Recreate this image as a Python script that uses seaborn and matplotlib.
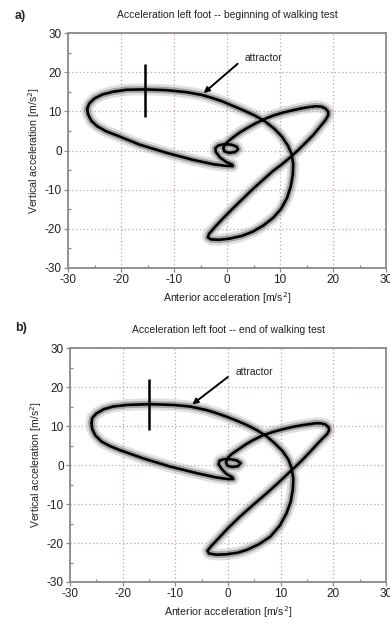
import matplotlib
matplotlib.use("Agg")
import matplotlib.pyplot as plt
import seaborn as sns
import pandas as pd
from matplotlib.ticker import MultipleLocator

# ---------------- data ----------------
# panel a: black attractor trajectory (beginning of walking test)
a_x = [-26.4, -26.2, -25.6, -24.5, -22.8, -20.5, -16.5, -11.4, -6.4, -2.6,
       -0.3, 1.1, 1.0, -0.2, -1.3, -2.1, -2.2, -1.6, -0.5, 0.8,
       1.8, 2.1, 1.5, 0.4, -0.5, -0.7, -0.2, 0.8, 2.4, 4.0,
       5.5, 7.2, 8.7, 10.6, 12.5, 14.2, 15.6, 16.8, 17.8, 18.6,
       19.1, 19.1, 18.6, 17.5, 16.3, 15.0, 13.5, 11.8, 10.3, 8.7,
       6.8, 4.9, 3.0, 1.1, -0.8, -2.4, -3.4, -3.6, -3.0, -1.5,
       0.5, 2.8, 4.9, 6.9, 8.7, 10.2, 11.3, 12.0, 12.4, 12.5,
       12.2, 11.5, 10.4, 8.9, 7.2, 5.3, 3.2, 1.1, -1.0, -3.0,
       -4.8, -7.7, -11.4, -15.5, -19.0, -21.5, -23.5, -25.0, -26.0, -26.4]
a_y = [10.6, 9.2, 7.6, 6.2, 4.9, 3.7, 1.5, -0.6, -2.4, -3.5,
       -3.9, -4.0, -3.6, -2.9, -1.8, -0.4, 0.6, 1.3, 1.6, 1.5,
       1.0, 0.3, -0.4, -0.6, -0.2, 0.7, 1.8, 3.0, 4.6, 5.9,
       7.0, 8.1, 8.9, 9.7, 10.3, 10.8, 11.1, 11.3, 11.2, 10.7,
       9.9, 9.0, 7.8, 6.0, 4.0, 2.2, 0.2, -1.9, -3.6, -5.2,
       -7.5, -9.8, -12.3, -14.8, -17.4, -19.7, -21.3, -22.2, -22.7, -22.8,
       -22.5, -21.8, -20.7, -19.1, -17.2, -14.9, -12.2, -9.3, -6.3, -3.5,
       -0.9, 1.2, 3.5, 5.6, 7.4, 8.9, 10.2, 11.4, 12.6, 13.5,
       14.2, 14.9, 15.4, 15.6, 15.5, 15.0, 14.3, 13.3, 12.0, 10.6]

# panel b: black attractor trajectory (end of walking test)
b_x = [-25.9, -25.8, -25.2, -24.0, -22.5, -20.5, -16.1, -11.0, -5.9, -2.2,
       0.0, 1.0, 0.8, -0.3, -1.2, -1.8, -1.6, -0.8, 0.4, 1.6,
       2.4, 1.9, 0.8, -0.1, -0.4, 0.0, 0.8, 2.2, 3.5, 4.8,
       6.6, 8.6, 10.5, 12.4, 14.0, 15.6, 16.6, 17.6, 18.5, 19.1,
       19.2, 18.8, 18.1, 16.9, 15.6, 13.9, 11.8, 9.6, 7.3, 4.8,
       2.3, 0.0, -1.8, -3.2, -3.9, -3.6, -2.2, -0.3, 1.8, 3.5,
       5.9, 8.0, 9.8, 11.1, 11.9, 12.3, 12.4, 12.1, 11.5, 10.4,
       9.0, 7.3, 5.4, 3.5, 1.6, -0.3, -2.2, -4.1, -7.2, -10.4,
       -14.8, -19.2, -21.8, -23.6, -25.0, -25.8, -25.9]
b_y = [10.7, 9.3, 7.6, 6.0, 4.9, 3.8, 1.7, -0.4, -2.1, -3.2,
       -3.6, -3.6, -3.1, -2.3, -1.0, 0.2, 1.1, 1.5, 1.5, 1.2,
       0.5, -0.3, -0.5, -0.2, 0.7, 1.9, 2.9, 4.2, 5.4, 6.4,
       7.6, 8.5, 9.2, 9.8, 10.2, 10.5, 10.7, 10.7, 10.4, 9.7,
       8.9, 7.9, 7.0, 5.3, 3.4, 1.0, -1.7, -4.5, -7.3, -10.2,
       -13.2, -16.2, -18.8, -20.8, -22.0, -22.7, -23.0, -22.9, -22.5, -21.8,
       -20.3, -18.4, -15.6, -12.4, -9.4, -6.4, -3.6, -0.9, 1.3, 3.5,
       5.4, 7.4, 9.0, 10.3, 11.4, 12.4, 13.3, 14.1, 15.0, 15.4,
       15.6, 15.4, 15.0, 14.3, 13.2, 12.0, 10.7]

# vertical marker lines [x, y_low, y_high]
a_marker = [-15.5, 8.5, 22.0]
b_marker = [-15.0, 9.0, 22.0]

# annotation: text position and arrow tail/head
a_annot = {"text": (3.4, 23.5), "tail": (2.4, 22.6), "head": (-4.8, 14.2)}
b_annot = {"text": (1.4, 23.9), "tail": (0.4, 23.0), "head": (-7.2, 15.1)}

titles = ["Acceleration left foot -- beginning of walking test",
          "Acceleration left foot -- end of walking test"]
panel_labels = ["a)", "b)"]
xlabel = "Anterior acceleration [m/s$^2$]"
ylabel = "Vertical acceleration [m/s$^2$]"
ticks = [-30, -20, -10, 0, 10, 20, 30]

# ---------------- style ----------------
sns.set_theme(style="white")
plt.rcParams["font.family"] = ["Liberation Sans", "DejaVu Sans"]
plt.rcParams["axes.unicode_minus"] = False

fig = plt.figure(figsize=(3.9, 6.23), dpi=100)
ax_a = fig.add_axes([68 / 390, 1 - 268 / 623, 318 / 390, 235 / 623])
ax_b = fig.add_axes([70 / 390, 1 - 582 / 623, 316 / 390, 234 / 623])

spine_col = "#8a8a8a"
grid_col = "#c7a2a2"

panels = [(ax_a, a_x, a_y, a_marker, a_annot, 0),
          (ax_b, b_x, b_y, b_marker, b_annot, 1)]

for ax, xs, ys, mk, an, i in panels:
    df = pd.DataFrame({"x": xs, "y": ys})
    kw = dict(data=df, x="x", y="y", sort=False, estimator=None, ax=ax,
              solid_joinstyle="round", solid_capstyle="round")
    # grey band of overlapping cycles
    sns.lineplot(color="#a8a8a8", lw=8.5, alpha=0.35, **kw)
    sns.lineplot(color="#6a6a6a", lw=4.8, alpha=0.5, **kw)
    # attractor (mean trajectory)
    sns.lineplot(color="black", lw=1.9, **kw)
    ax.vlines(mk[0], mk[1], mk[2], color="black", lw=1.8)
    ax.annotate("", xy=an["head"], xytext=an["tail"],
                arrowprops=dict(arrowstyle="-|>", color="black", lw=1.4,
                                mutation_scale=8))
    ax.text(an["text"][0], an["text"][1], "attractor", fontsize=7.4,
            ha="left", va="center", color="#222222")

    ax.set_xlim(-30, 30)
    ax.set_ylim(-30, 30)
    ax.set_xticks(ticks)
    ax.set_yticks(ticks)
    ax.xaxis.set_minor_locator(MultipleLocator(5))
    ax.yaxis.set_minor_locator(MultipleLocator(5))
    ax.grid(True, which="major", color=grid_col, linestyle=(0, (1, 2)), lw=0.9)
    ax.tick_params(which="major", direction="out", length=3, width=0.9,
                   color=spine_col, labelsize=8.5, pad=1.5, labelcolor="#222222",
                   bottom=True, left=True)
    ax.tick_params(which="minor", direction="in", length=2.5, width=0.9,
                   color=spine_col, bottom=True, left=True)
    for s in ax.spines.values():
        s.set_color(spine_col)
        s.set_linewidth(1.3)
    ax.set_xlabel(xlabel, fontsize=7.6, labelpad=3, color="#222222")
    ax.set_ylabel(ylabel, fontsize=7.6, labelpad=2, color="#222222")
    ax.set_title(titles[i], fontsize=7.5, pad=11, color="#222222")
    ax.set_axisbelow(True)

fig.text(15 / 390, 1 - 16 / 623, panel_labels[0], fontsize=9, fontweight="bold",
         ha="left", va="center")
fig.text(15 / 390, 1 - 328 / 623, panel_labels[1], fontsize=9, fontweight="bold",
         ha="left", va="center")

fig.savefig("out.png", dpi=100)
